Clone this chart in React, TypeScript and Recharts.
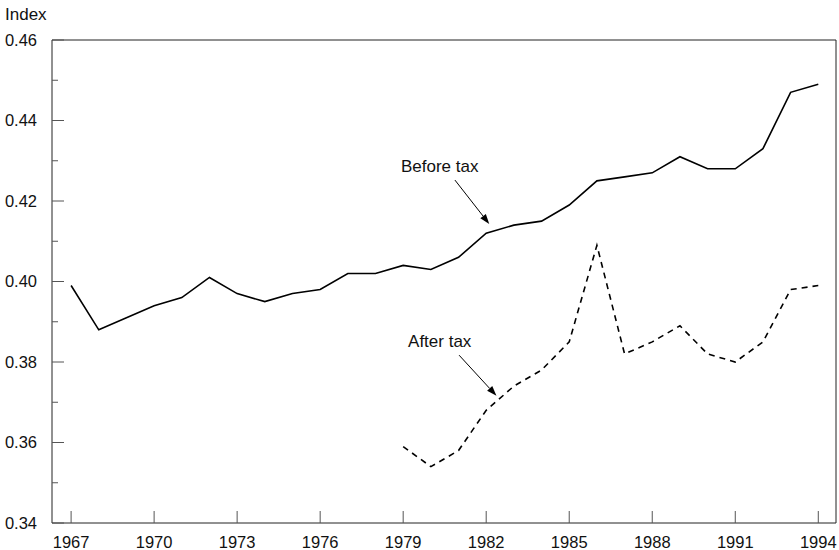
import {
  LineChart,
  Line,
  XAxis,
  YAxis,
  ReferenceLine,
  ReferenceDot,
  ReferenceArea,
} from 'recharts';

const years = [
  1967, 1968, 1969, 1970, 1971, 1972, 1973, 1974, 1975, 1976, 1977, 1978, 1979, 1980,
  1981, 1982, 1983, 1984, 1985, 1986, 1987, 1988, 1989, 1990, 1991, 1992, 1993, 1994,
];

const beforeTax = [
  0.399, 0.388, 0.391, 0.394, 0.396, 0.401, 0.397, 0.395, 0.397, 0.398, 0.402, 0.402, 0.404, 0.403,
  0.406, 0.412, 0.414, 0.415, 0.419, 0.425, 0.426, 0.427, 0.431, 0.428, 0.428, 0.433, 0.447, 0.449,
];

// after-tax series starts in 1979
const afterTax = [
  null, null, null, null, null, null, null, null, null, null, null, null, 0.359, 0.354,
  0.358, 0.368, 0.374, 0.378, 0.385, 0.409, 0.382, 0.385, 0.389, 0.382, 0.38, 0.385, 0.398, 0.399,
];

const xTicks = [1967, 1970, 1973, 1976, 1979, 1982, 1985, 1988, 1991, 1994];
const yTicks = [0.34, 0.35, 0.36, 0.37, 0.38, 0.39, 0.4, 0.41, 0.42, 0.43, 0.44, 0.45, 0.46];

const xDomain = [1966.31, 1994.64];
const yDomain = [0.34, 0.46];

const labels = [
  { text: 'Before tax', x: 1980.32, y: 0.4287 },
  { text: 'After tax', x: 1980.32, y: 0.3852 },
];
const arrows = [
  { from: { x: 1980.87, y: 0.4252 }, to: { x: 1982.11, y: 0.4143 } },
  { from: { x: 1981.02, y: 0.3817 }, to: { x: 1982.37, y: 0.3716 } },
];

const data = years.map((year, i) => ({
  year,
  before: beforeTax[i],
  after: afterTax[i],
}));

const FONT = '"Liberation Sans", Arial, sans-serif';

const YTick = (props: any) => {
  const { x, y, payload } = props;
  const major = Math.round(payload.value * 100) % 2 === 0;
  return (
    <g>
      <line x1={x} y1={y} x2={x + (major ? 12 : 6)} y2={y} stroke="#555" strokeWidth={1} />
      {major && (
        <text x={x - 15} y={y} dy="0.36em" textAnchor="end" fontSize={16.5} fill="#111" fontFamily={FONT}>
          {payload.value.toFixed(2)}
        </text>
      )}
    </g>
  );
};

const XTick = (props: any) => {
  const { x, y, payload } = props;
  return (
    <g>
      <line x1={x} y1={y} x2={x} y2={y - 12} stroke="#555" strokeWidth={1} />
      <text x={x} y={y + 25} textAnchor="middle" fontSize={16.5} fill="#111" fontFamily={FONT}>
        {payload.value}
      </text>
    </g>
  );
};

const Arrow = (props: any) => {
  const { x1, y1, x2, y2 } = props;
  const ang = Math.atan2(y2 - y1, x2 - x1);
  const len = 10;
  const w = 3.5;
  const bx = x2 - len * Math.cos(ang);
  const by = y2 - len * Math.sin(ang);
  const px = -Math.sin(ang) * w;
  const py = Math.cos(ang) * w;
  return (
    <g>
      <line x1={x1} y1={y1} x2={bx} y2={by} stroke="#000" strokeWidth={1} />
      <polygon points={`${x2},${y2} ${bx + px},${by + py} ${bx - px},${by - py}`} fill="#000" />
    </g>
  );
};

export default function App() {
  return (
    <div style={{ position: 'absolute', left: 0, top: 0, width: 839, height: 550, background: '#fff', fontFamily: FONT }}>
      <div style={{ position: 'absolute', left: 5, top: 6, fontSize: 17, lineHeight: '18px', color: '#111' }}>
        Index
      </div>
      <LineChart width={839} height={550} data={data} margin={{ top: 40, right: 3, bottom: 0, left: 0 }}>
        <XAxis
          dataKey="year"
          type="number"
          domain={xDomain}
          ticks={xTicks}
          interval={0}
          height={27}
          tickSize={0}
          tickMargin={0}
          tickLine={false}
          axisLine={false}
          tick={<XTick />}
          allowDataOverflow
        />
        <YAxis
          type="number"
          domain={yDomain}
          ticks={yTicks}
          interval={0}
          width={52}
          tickSize={0}
          tickMargin={0}
          tickLine={false}
          axisLine={false}
          tick={<YTick />}
          allowDataOverflow
        />
        <ReferenceArea
          x1={xDomain[0]}
          x2={xDomain[1]}
          y1={yDomain[0]}
          y2={yDomain[1]}
          fill="none"
          fillOpacity={0}
          stroke="#222"
          strokeWidth={1}
        />
        <Line
          type="linear"
          dataKey="before"
          stroke="#000"
          strokeWidth={1.6}
          dot={false}
          isAnimationActive={false}
        />
        <Line
          type="linear"
          dataKey="after"
          stroke="#000"
          strokeWidth={1.6}
          strokeDasharray="6 5"
          dot={false}
          connectNulls={false}
          isAnimationActive={false}
        />
        {arrows.map((a, i) => (
          <ReferenceLine key={`a${i}`} segment={[a.from, a.to]} shape={<Arrow />} />
        ))}
        {labels.map((l) => (
          <ReferenceDot
            key={l.text}
            x={l.x}
            y={l.y}
            r={0}
            shape={(p: any) => (
              <text x={p.cx} y={p.cy} dy="0.36em" textAnchor="middle" fontSize={17} fill="#111" fontFamily={FONT}>
                {l.text}
              </text>
            )}
          />
        ))}
      </LineChart>
    </div>
  );
}
